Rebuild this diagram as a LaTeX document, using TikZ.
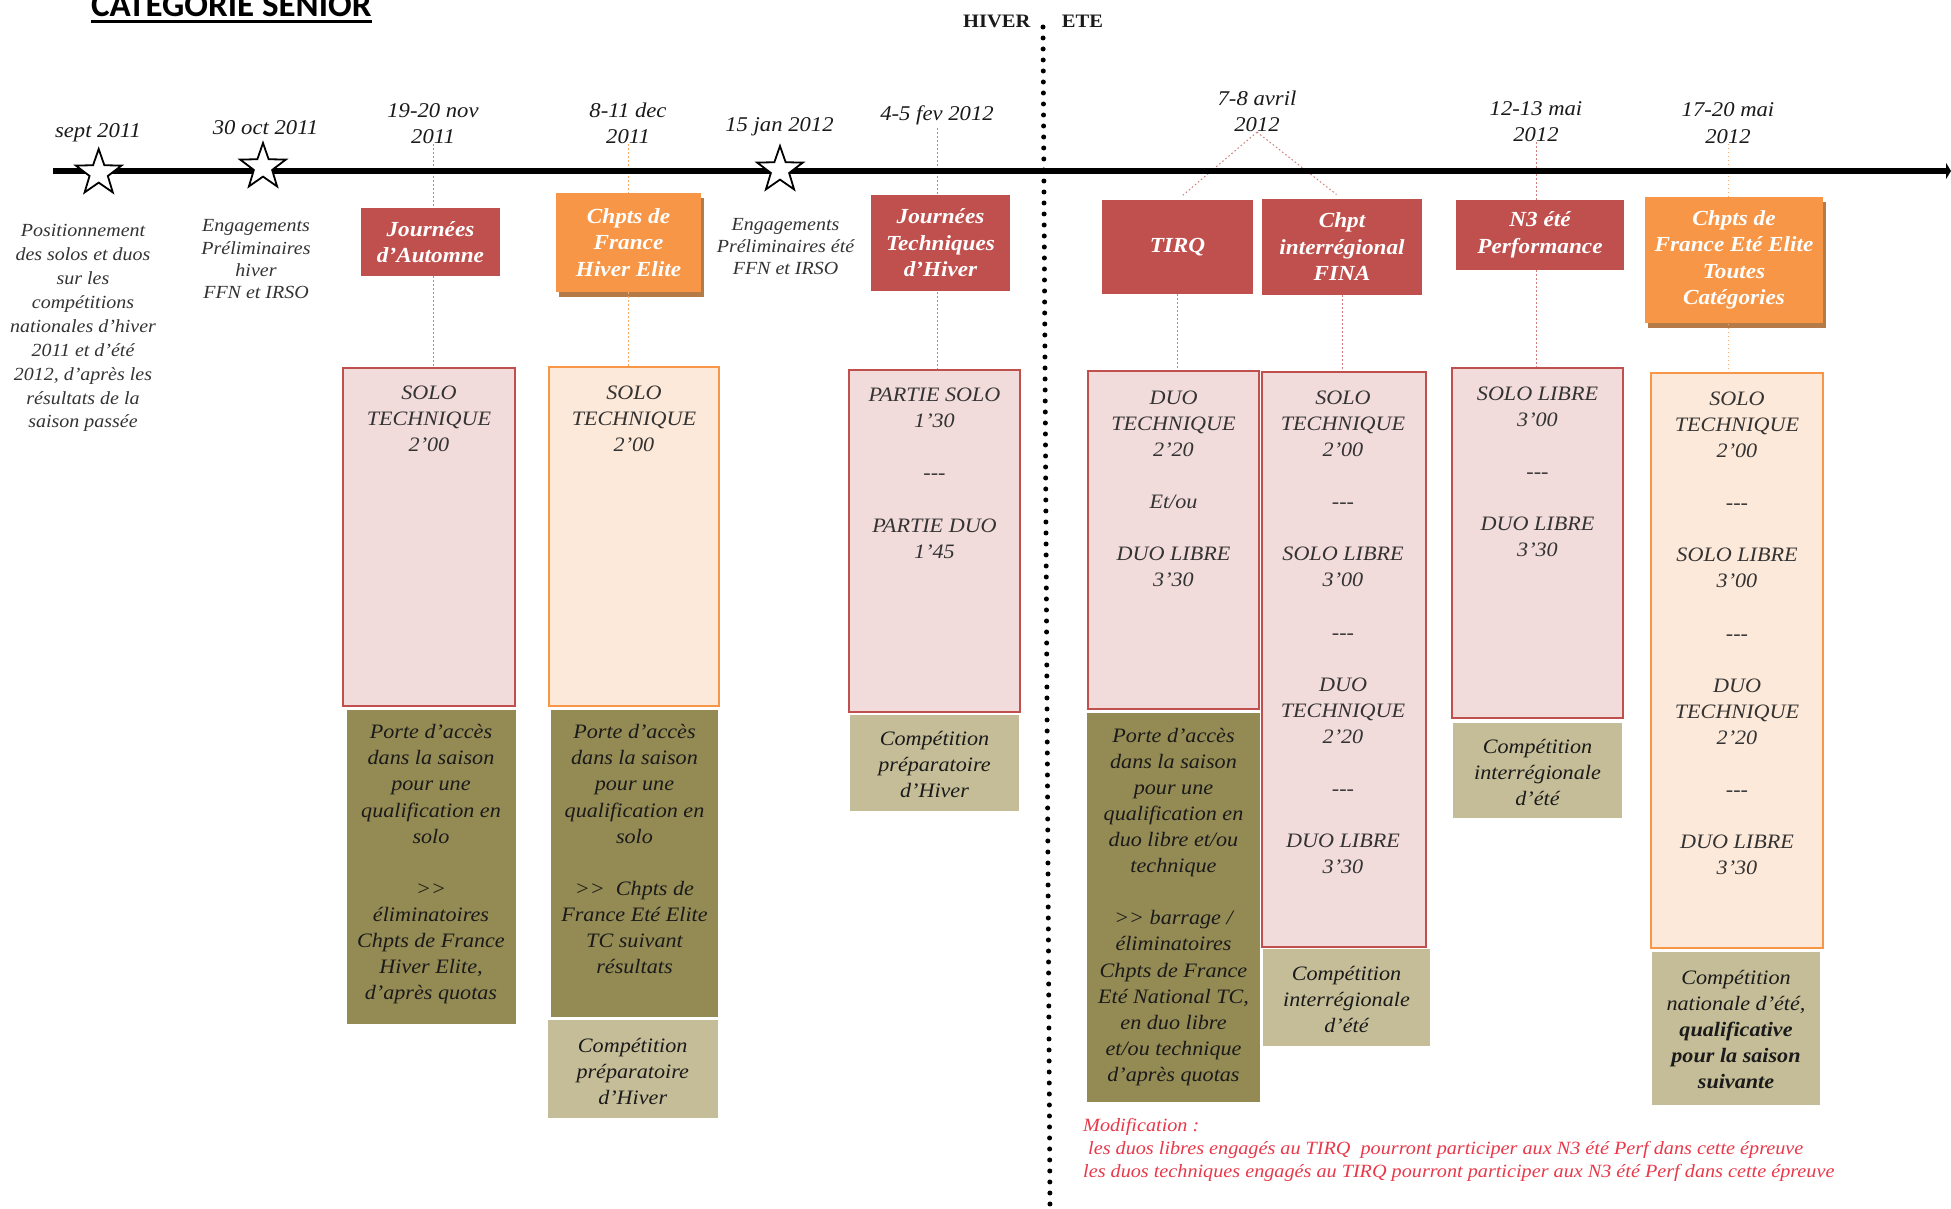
\documentclass[tikz,border=0pt]{standalone}
\usepackage{fontspec}
\setmainfont{Liberation Serif}[FakeStretch=1.08]
\newfontfamily\titlefont{Carlito}
\usetikzlibrary{shapes.geometric,fit,backgrounds,arrows.meta,calc}
\definecolor{redH}{HTML}{C0504D}
\definecolor{orangeH}{HTML}{F79646}
\definecolor{pinkF}{HTML}{F2DCDB}
\definecolor{peachF}{HTML}{FDE9D9}
\definecolor{oliveF}{HTML}{948A54}
\definecolor{tanF}{HTML}{C4BD97}
\definecolor{shadowC}{HTML}{B47A48}
\definecolor{txtG}{HTML}{333333}
\definecolor{txtD}{HTML}{1A1A1A}
\definecolor{noteR}{HTML}{E8384A}
\newcommand\hdrf{\fontsize{21.5}{26.5}\selectfont\bfseries\itshape}
\newcommand\boxf{\fontsize{20.5}{26.1}\selectfont\itshape}
\newcommand\datef{\fontsize{21}{26.5}\selectfont\itshape}
\newcommand\gap{\\[26.1pt]}
\begin{document}
\begin{tikzpicture}[x=1pt,y=-1pt,
  hdr/.style={fill=#1, inner sep=0pt, text=white, align=center, font=\hdrf},
  cboxR/.style={fill=pinkF, draw=redH, line width=2.5pt, inner sep=0pt},
  cboxO/.style={fill=peachF, draw=orangeH, line width=2.5pt, inner sep=0pt},
  oliveBox/.style={fill=oliveF, inner sep=0pt},
  tanBox/.style={fill=tanF, inner sep=0pt},
  ctxt/.style={inner sep=0pt, align=center, font=\boxf, text=txtG, anchor=north},
  otxt/.style={inner sep=0pt, align=center, font=\boxf, text=txtD, anchor=north},
  datelbl/.style={inner sep=0pt, align=center, font=\datef, text=txtD, anchor=north},
  lefttxt/.style={inner sep=0pt, align=center, text=txtG, anchor=north},
  starS/.style={star, star points=5, star point ratio=2.5, minimum size=48pt, inner sep=0pt, draw=black, line width=1.8pt, fill=white},
  connR/.style={draw=redH!75, line width=1pt, dash pattern=on 1.5pt off 2.5pt},
  connO/.style={draw=orangeH!80, line width=1pt, dash pattern=on 1.5pt off 2.5pt}]
\useasboundingbox (0,0) rectangle (1951,1209);

% title
\node[font=\titlefont\bfseries\fontsize{35}{40}\selectfont, anchor=base west, inner sep=0pt] (title) at (91,16.7) {CATEGORIE SENIOR};
\draw[line width=3.2pt] ($(title.base west)+(0,4.8)$) -- ($(title.base east)+(0,4.8)$);

% season labels and separator
\node[font=\bfseries\fontsize{19}{22}\selectfont, anchor=base, inner sep=0pt, text=txtD] (hiver) at (996.7,28) {HIVER};
\node[font=\bfseries\fontsize{19}{22}\selectfont, anchor=base, inner sep=0pt, text=txtD] (ete) at (1082.5,28) {ETE};
\coordinate (sep0) at (1043,27);
\coordinate (sep1) at (1050,1209);
\draw[line width=5pt, line cap=round, dash pattern=on 0pt off 11pt] (sep0) -- (sep1);

% timeline
\coordinate (tl0) at (53,171);
\coordinate (tl1) at (1951,171);
\draw[line width=6.5pt, -{Triangle[width=16pt,length=5pt]}] (tl0) -- (tl1);
\node[starS] (s1) at (98.7,173) {};
\node[starS] (s2) at (263,167) {};
\node[starS] (s3) at (780,170) {};

% dates
\node[datelbl] (d1) at (98,118.45) {\strut sept 2011};
\node[datelbl] (d2) at (265.6,115.45) {\strut 30 oct 2011};
\node[datelbl] (d3) at (433,98.45) {\strut 19-20 nov\\2011};
\node[datelbl] (d4) at (628,98.45) {\strut 8-11 dec\\2011};
\node[datelbl] (d5) at (779.5,113.15) {\strut 15 jan 2012};
\node[datelbl] (d6) at (937,101.45) {\strut 4-5 fev 2012};
\node[datelbl] (d7) at (1257,86.45) {\strut 7-8 avril\\2012};
\node[datelbl] (d8) at (1536,96.45) {\strut 12-13 mai\\2012};
\node[datelbl] (d9) at (1728,98.15) {\strut 17-20 mai\\2012};

% left texts
\node[lefttxt, font=\fontsize{18.5}{23.9}\selectfont\itshape] (l1) at (83,219.8) {\strut Positionnement\\des solos et duos\\sur les\\compétitions\\nationales d'hiver\\2011 et d'été\\2012, d'après les\\résultats de la\\saison passée};
\node[lefttxt, font=\fontsize{18.5}{22.3}\selectfont\itshape] (l2) at (256,215.9) {\strut Engagements\\Préliminaires\\hiver\\FFN et IRSO};
\node[lefttxt, font=\fontsize{18.5}{22.3}\selectfont\itshape] (l3) at (785.5,214.4) {\strut Engagements\\Préliminaires été\\FFN et IRSO};

% header boxes
\node[hdr=redH, minimum width=139pt, minimum height=68pt] (h1) at (430.5,242) {Journées\\d'Automne};
\node[hdr=orangeH, minimum width=145pt, minimum height=99pt] (h2) at (628.5,242.5) {Chpts de\\France\\Hiver Elite};
\node[hdr=redH, minimum width=139pt, minimum height=96pt] (h3) at (940.5,243) {Journées\\Techniques\\d'Hiver};
\node[hdr=redH, minimum width=151pt, minimum height=94pt] (h4) at (1177.5,247) {TIRQ};
\node[hdr=redH, minimum width=160pt, minimum height=96pt] (h5) at (1342,247) {Chpt\\interrégional\\FINA};
\node[hdr=redH, minimum width=168pt, minimum height=70pt] (h6) at (1540,235) {N3 été\\Performance};
\node[hdr=orangeH, minimum width=178pt, minimum height=126pt] (h7) at (1734,260) {Chpts de\\France Eté Elite\\Toutes\\Catégories};

% content boxes
\node[cboxR, fit={(343,368) (515,706)}] (c1) {};
\node[cboxO, fit={(549,367) (719,706)}] (c2) {};
\node[cboxR, fit={(849,370) (1020,712)}] (c3) {};
\node[cboxR, fit={(1088,371) (1259,709)}] (c4) {};
\node[cboxR, fit={(1262,372) (1426,947)}] (c5) {};
\node[cboxR, fit={(1452,368) (1623,718)}] (c6) {};
\node[cboxO, fit={(1651,373) (1823,948)}] (c7) {};

\node[ctxt] (c1t) at (429,380.7) {\strut SOLO\\TECHNIQUE\\2'00};
\node[ctxt] (c2t) at (634,380.7) {\strut SOLO\\TECHNIQUE\\2'00};
\node[ctxt] (c3t) at (934.5,383.2) {\strut PARTIE SOLO\\1'30\gap -{}-{}-\gap PARTIE DUO\\1'45};
\node[ctxt] (c4t) at (1173.5,385.7) {\strut DUO\\TECHNIQUE\\2'20\gap Et/ou\gap DUO LIBRE\\3'30};
\node[ctxt] (c5t) at (1343,385.7) {\strut SOLO\\TECHNIQUE\\2'00\gap -{}-{}-\gap SOLO LIBRE\\3'00\gap -{}-{}-\gap DUO\\TECHNIQUE\\2'20\gap -{}-{}-\gap DUO LIBRE\\3'30};
\node[ctxt] (c6t) at (1537.5,381.7) {\strut SOLO LIBRE\\3'00\gap -{}-{}-\gap DUO LIBRE\\3'30};
\node[ctxt] (c7t) at (1737,386.7) {\strut SOLO\\TECHNIQUE\\2'00\gap -{}-{}-\gap SOLO LIBRE\\3'00\gap -{}-{}-\gap DUO\\TECHNIQUE\\2'20\gap -{}-{}-\gap DUO LIBRE\\3'30};

% bottom boxes
\node[oliveBox, fit={(347,710) (516,1024)}] (b1) {};
\node[oliveBox, fit={(551,710) (718,1017)}] (b2) {};
\node[tanBox, fit={(548,1020) (717.5,1118)}] (b2b) {};
\node[tanBox, fit={(850,715) (1019,811)}] (b3) {};
\node[oliveBox, fit={(1087,713) (1260,1102)}] (b4) {};
\node[tanBox, fit={(1263,949) (1430,1046)}] (b5) {};
\node[tanBox, fit={(1453,723) (1622,818)}] (b6) {};
\node[tanBox, fit={(1652,952) (1820,1105)}] (b7) {};

\node[otxt] (b1t) at (431,720.3) {\strut Porte d'accès\\dans la saison\\pour une\\qualification en\\solo\gap >{}>\\éliminatoires\\Chpts de France\\Hiver Elite,\\d'après quotas};
\node[otxt] (b2t) at (634.5,720.3) {\strut Porte d'accès\\dans la saison\\pour une\\qualification en\\solo\gap >{}>~ Chpts de\\France Eté Elite\\TC suivant\\résultats};
\node[otxt] (b2bt) at (632.7,1033.7) {\strut Compétition\\préparatoire\\d'Hiver};
\node[otxt] (b3t) at (934.5,726.7) {\strut Compétition\\préparatoire\\d'Hiver};
\node[otxt] (b4t) at (1173.5,723.7) {\strut Porte d'accès\\dans la saison\\pour une\\qualification en\\duo libre et/ou\\technique\gap >{}> barrage /\\éliminatoires\\Chpts de France\\Eté National TC,\\en duo libre\\et/ou technique\\d'après quotas};
\node[otxt] (b5t) at (1346.5,961.7) {\strut Compétition\\interrégionale\\d'été};
\node[otxt] (b6t) at (1537.5,735.3) {\strut Compétition\\interrégionale\\d'été};
\node[otxt] (b7t) at (1736,965.7) {\strut Compétition\\nationale d'été,\\\textbf{qualificative}\\\textbf{pour la saison}\\\textbf{suivante}};

% note
\node[inner sep=0pt, anchor=north west, align=left, text=noteR, font=\fontsize{18.7}{23}\selectfont\itshape] (note) at (1083,1115.5) {\strut Modification :\\\hspace*{5pt}les duos libres engagés au TIRQ \ pourront participer aux N3 été Perf dans cette épreuve\\les duos techniques engagés au TIRQ pourront participer aux N3 été Perf dans cette épreuve};

% background: shadows and dotted connectors
\begin{pgfonlayer}{background}
\fill[white] (0,0) rectangle (1951,1209);
\fill[shadowC] ($(h2.south west)+(3,5)$) rectangle ($(h2.north east)+(3,5)$);
\fill[shadowC] ($(h7.south west)+(3,5)$) rectangle ($(h7.north east)+(3,5)$);
\draw[connR] (d3.south) -- (d3.south |- c1.north);
\draw[connO] (d4.south) -- (d4.south |- c2.north);
\draw[connR] (d6.south) -- (d6.south |- c3.north);
\draw[connR, shorten >=7pt] (d7.south) -- (h4.north);
\draw[connR, shorten >=7pt] (d7.south) -- (h5.north);
\draw[connR] (h4.south) -- (h4.south |- c4.north);
\draw[connR] (h5.south) -- (h5.south |- c5.north);
\draw[connR] (d8.south) -- (d8.south |- c6.north);
\draw[connO] (d9.south) -- (d9.south |- c7.north);
\end{pgfonlayer}
\end{tikzpicture}
\end{document}
